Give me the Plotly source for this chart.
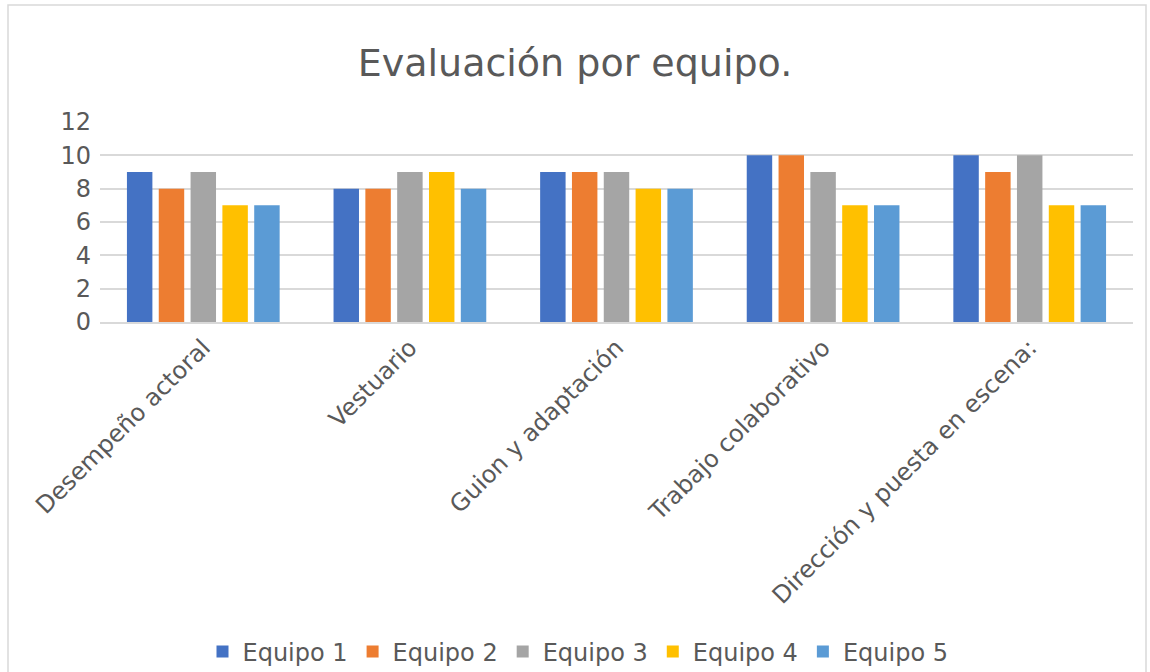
import plotly.graph_objects as go

categories = ["Desempeño actoral", "Vestuario", "Guion y adaptación",
              "Trabajo colaborativo", "Dirección y puesta en escena:"]
series_names = ["Equipo 1", "Equipo 2", "Equipo 3", "Equipo 4", "Equipo 5"]
equipo1 = [9, 8, 9, 10, 10]
equipo2 = [8, 8, 9, 10, 9]
equipo3 = [9, 9, 9, 9, 10]
equipo4 = [7, 9, 8, 7, 7]
equipo5 = [7, 8, 8, 7, 7]
values = [equipo1, equipo2, equipo3, equipo4, equipo5]
colors = ["#4472C4", "#ED7D31", "#A5A5A5", "#FFC000", "#5B9BD5"]

FONT = "DejaVu Sans"
TXT = "#595959"

fig = go.Figure()
for name, vals, col in zip(series_names, values, colors):
    fig.add_trace(go.Bar(name=name, x=categories, y=vals, marker_color=col,
                         marker_line_width=0))

L, R, T, B = 100, 17, 122, 350
PW, PH = 1150 - L - R, 672 - T - B

fig.update_layout(
    width=1150, height=672,
    paper_bgcolor="white", plot_bgcolor="white",
    margin=dict(l=L, r=R, t=T, b=B, autoexpand=False),
    barmode="group", bargap=0.23, bargroupgap=0.2,
    title=dict(text="Evaluación por equipo.", x=575 / 1150, xanchor="center",
               xref="container", y=1 - 63 / 672, yanchor="middle",
               font=dict(family=FONT, size=38, color=TXT)),
    font=dict(family=FONT, color=TXT),
    legend=dict(orientation="h", x=(578 - L) / PW, xanchor="center",
                y=-(652 - 322) / PH, yanchor="middle",
                font=dict(family=FONT, size=24, color=TXT),
                itemwidth=30, traceorder="normal"),
    xaxis=dict(tickangle=-45, tickfont=dict(family=FONT, size=24, color=TXT),
               showline=True, linecolor="#d9d9d9", linewidth=2, ticks="",
               automargin=False),
    yaxis=dict(range=[0, 12], dtick=2, tickfont=dict(family=FONT, size=24, color=TXT),
               showgrid=True, gridcolor="#d9d9d9", gridwidth=2, zeroline=False,
               ticks="", ticklabelstandoff=8, automargin=False),
    shapes=[dict(type="rect", xref="paper", yref="paper",
                 x0=(8 - L) / PW, x1=(1146 - L) / PW,
                 y0=-(680 - 322) / PH, y1=(322 - 5) / PH,
                 line=dict(color="#d9d9d9", width=1.5), fillcolor="rgba(0,0,0,0)",
                 layer="below")],
)

fig.write_html("out.html", config={"displayModeBar": False},
               post_script="document.body.style.margin='0';")
